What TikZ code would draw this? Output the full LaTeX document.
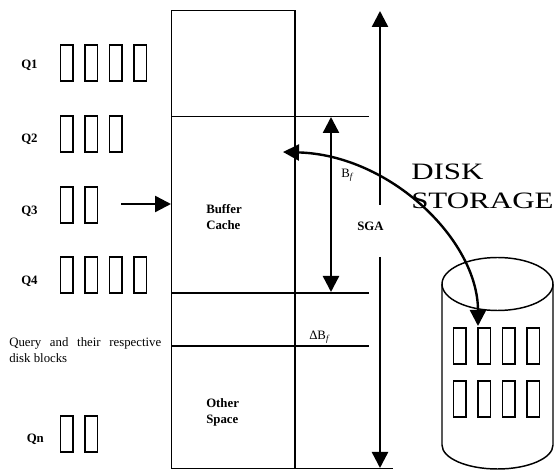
\documentclass[tikz,border=0pt]{standalone}
\usepackage{fontspec}
\setmainfont{Liberation Serif}
\newfontfamily\widefont[FakeStretch=1.32]{Liberation Serif}
\usetikzlibrary{arrows.meta}
\tikzset{
  blk/.style={draw=black,line width=1pt,fill=none,outer sep=0pt},
  wall/.style={draw=black,line width=1.1pt,outer sep=0pt},
  bigarrow/.style={draw=black,line width=1.8pt,-{Triangle[length=12pt,width=12pt]}},
  botharrow/.style={draw=black,line width=1.8pt,{Triangle[length=12pt,width=12pt]}-{Triangle[length=12pt,width=12pt]}},
  lbl/.style={font=\fontsize{9.6pt}{12pt}\selectfont\bfseries,anchor=base west,inner sep=0pt,align=left},
  thin lbl/.style={font=\fontsize{9.6pt}{12pt}\selectfont,anchor=base west,inner sep=0pt},
  big lbl/.style={font=\fontsize{17.6pt}{20pt}\widefont,anchor=base west,inner sep=0pt}
}
\newcommand{\qblocks}[2]{%
  \foreach \bx [count=\bi] in {#2} {
    \node[blk,minimum width=9.4pt,minimum height=27pt,inner sep=0pt,anchor=north west] (b#1\bi) at (\bx,#1) {};
  }%
}
\begin{document}
\begin{tikzpicture}[x=0.75pt,y=-0.75pt]
\useasboundingbox (0,0) rectangle (554,470);
% memory box
\node[wall,minimum width=92.6pt,minimum height=343.5pt,inner sep=0pt,anchor=north west] (mem) at (171.5,10.5) {};
\coordinate (e1) at (369,116.5);
\coordinate (e2) at (369,293);
\coordinate (e3) at (369,346);
\coordinate (e4) at (393,468.5);
\coordinate (w1) at (171.5,116.5);
\coordinate (w2) at (171.5,293);
\coordinate (w3) at (171.5,346);
\coordinate (w4) at (294.5,468.5);
\draw[wall] (w1) -- (e1);
\draw[wall] (w2) -- (e2);
\draw[wall] (w3) -- (e3);
\draw[wall] (w4) -- (e4);
% query blocks
\qblocks{45}{60.5,85,109.5,134}
\qblocks{116}{60.5,85,109.5}
\qblocks{187}{60.5,85}
\qblocks{257}{60.5,85,109.5,134}
\qblocks{416}{60.5,85}
% labels
\node[lbl] (q1) at (21,69) {Q1};
\node[lbl] (q2) at (21,142.5) {Q2};
\node[lbl] (q3) at (21,214.5) {Q3};
\node[lbl] (q4) at (21,284.5) {Q4};
\node[lbl] (qn) at (26.5,443) {Qn};
\node[lbl] (buf) at (206,230) {Buffer\\Cache};
\node[lbl] (oth) at (206,423.5) {Other\\Space};
\node[lbl] (sga) at (357,231) {SGA};
\node[thin lbl] (bf) at (341,178) {B\textsubscript{\textit{f}}};
\node[thin lbl] (dbf) at (309,340) {ΔB\textsubscript{\textit{f}}};
\node[thin lbl,anchor=north west,text width=114pt,align=justify] (qtxt) at (9,337.5) {Query and their respective\linebreak disk blocks};
% arrows
\coordinate (q3s) at (121,204);
\coordinate (q3e) at (171,204);
\draw[bigarrow] (q3s) -- (q3e);
\coordinate (bt) at (331,117);
\coordinate (bb) at (331,292);
\draw[botharrow] (bt) -- (bb);
\coordinate (s1) at (380,205);
\coordinate (s2) at (380,11);
\coordinate (s3) at (380,257);
\coordinate (s4) at (380,468);
\draw[bigarrow] (s1) -- (s2);
\draw[bigarrow] (s3) -- (s4);
% cylinder
\coordinate (cl) at (442,284);
\coordinate (cr) at (553,284);
\coordinate (dl) at (442,445);
\coordinate (dr) at (553,445);
\draw[wall] (cl) arc[start angle=180,end angle=-180,x radius=55.5,y radius=26.5];
\draw[wall] (cl) -- (dl) arc[start angle=180,end angle=0,x radius=55.5,y radius=24] -- (cr);
\qblocks{328}{453.5,478,502.5,527}
\qblocks{381}{453.5,478,502.5,527}
% disk storage
\node[big lbl] (d1) at (411,180) {DISK};
\node[big lbl] (d2) at (411,208.5) {STORAGE};
\coordinate (ca) at (283,152);
\coordinate (cb) at (478,326);
\draw[botharrow] (ca) .. controls (390,155) and (478,240) .. (cb);
\end{tikzpicture}
\end{document}
